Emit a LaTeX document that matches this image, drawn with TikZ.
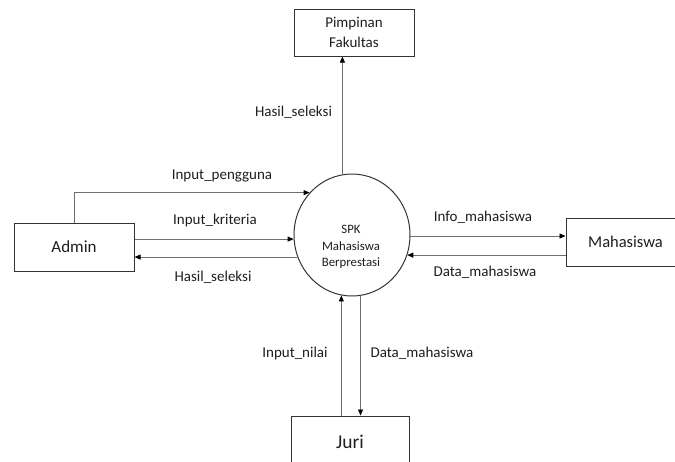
\documentclass[tikz,border=0pt]{standalone}
\usepackage{fontspec}
\setmainfont{Carlito}
\usetikzlibrary{arrows.meta,shapes.geometric}
\definecolor{txt}{HTML}{1E1E1E}
\definecolor{lin}{HTML}{6E6E6E}
\begin{document}
\begin{tikzpicture}[x=1pt,y=-1pt,
  box/.style={draw=black!80,line width=1pt,rectangle,inner sep=0pt,text=txt,align=center},
  flow/.style={draw=lin,line width=0.8pt,-{Triangle[length=6pt,width=5pt,fill=black,color=black]}},
  lbl/.style={text=txt,font=\fontsize{15}{18}\selectfont,inner sep=0pt}]
\useasboundingbox (0,0) rectangle (675,461);
\clip (0,0) rectangle (675,461);
\node[box,minimum width=120pt,minimum height=47pt,font=\fontsize{15}{20}\selectfont] (pim) at (354,32.5) {Pimpinan\\Fakultas};
\node[box,minimum width=120pt,minimum height=48pt,font=\fontsize{17}{20}\selectfont] (admin) at (74,247) {Admin};
\node[box,minimum width=119pt,minimum height=48pt,font=\fontsize{16.5}{20}\selectfont] (maha) at (625.5,242) {Mahasiswa};
\node[box,minimum width=118pt,minimum height=52pt,font=\fontsize{19.5}{22}\selectfont] (juri) at (350,442) {Juri};
\node[draw=black!80,line width=1pt,ellipse,minimum width=116pt,minimum height=122pt,inner sep=0pt] (spk) at (352,235) {};
\node[text=txt,align=center,font=\fontsize{12.8}{16.5}\selectfont] (spktext) at (351,247) {SPK\\Mahasiswa\\Berprestasi};
% connectors
\draw[flow] (admin.north) |- (spk.135);
\draw[flow] (spk.184 -| admin.east) -- (spk.184);
\draw[flow] (spk.202) -- (spk.202 -| admin.east);
\draw[flow] (spk.359) -- (spk.359 -| maha.west);
\draw[flow] (spk.340 -| maha.west) -- (spk.340);
\draw[flow] (spk.99.4) -- (spk.99.4 |- pim.south);
\draw[flow] (spk.260.6 |- juri.north) -- (spk.260.6);
\draw[flow] (spk.278.5) -- (spk.278.5 |- juri.north);
% labels
\node[lbl] (l1) at (222,176) {Input\_pengguna};
\node[lbl] (l2) at (215,220) {Input\_kriteria};
\node[lbl] (l3) at (213,277) {Hasil\_seleksi};
\node[lbl] (l4) at (293.5,112) {Hasil\_seleksi};
\node[lbl] (l5) at (483,217) {Info\_mahasiswa};
\node[lbl] (l6) at (485,272) {Data\_mahasiswa};
\node[lbl] (l7) at (295,353) {Input\_nilai};
\node[lbl] (l8) at (422,353) {Data\_mahasiswa};
\end{tikzpicture}
\end{document}
